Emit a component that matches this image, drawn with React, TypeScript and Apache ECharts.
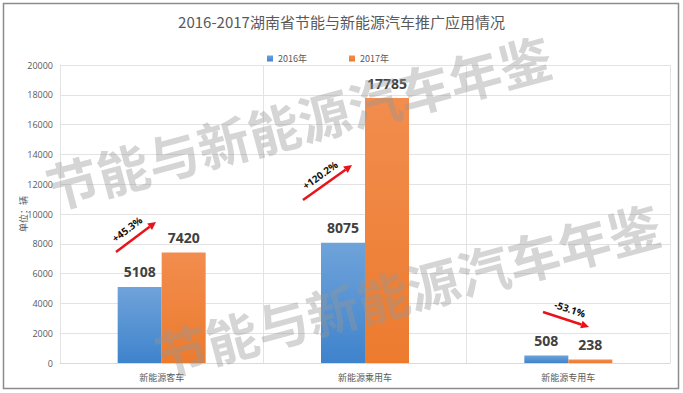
import React, { useEffect, useRef } from "react";
import * as echarts from "echarts";

const categories = ["新能源客车", "新能源乘用车", "新能源专用车"];
const series2016 = [5108, 8075, 508];
const series2017 = [7420, 17785, 238];
const seriesNames = ["2016年", "2017年"];
const changeLabels = ["+45.3%", "+120.2%", "-53.1%"];
const titleText = "2016-2017湖南省节能与新能源汽车推广应用情况";
const watermarkText = "节能与新能源汽车年鉴";

const CJK = "'Noto Sans CJK SC', 'Noto Sans', sans-serif";
const NUM = "'Open Sans', 'Noto Sans', sans-serif";

function arrow(x1: number, y1: number, x2: number, y2: number) {
  const ang = Math.atan2(y2 - y1, x2 - x1);
  const len = 8;
  const w = 4;
  const bx = x2 - len * Math.cos(ang);
  const by = y2 - len * Math.sin(ang);
  const px = -Math.sin(ang) * w;
  const py = Math.cos(ang) * w;
  return [
    {
      type: "line",
      shape: { x1, y1, x2: bx, y2: by },
      style: { stroke: "#e8141a", lineWidth: 2.5 },
      z: 100,
    },
    {
      type: "polygon",
      shape: { points: [[x2, y2], [bx + px, by + py], [bx - px, by - py]] },
      style: { fill: "#e8141a" },
      z: 100,
    },
  ];
}

function rotLabel(text: string, x: number, y: number, deg: number) {
  return {
    type: "text",
    x,
    y,
    rotation: (deg * Math.PI) / 180,
    style: {
      text,
      fill: "#111",
      font: `bold 10px ${NUM}`,
      align: "center",
      verticalAlign: "middle",
    },
    z: 100,
  };
}

export default function App() {
  const ref = useRef<HTMLDivElement>(null);
  useEffect(() => {
    document.body.style.margin = "0";
    const chart = echarts.init(ref.current!, null, { renderer: "svg" });
    const blueGrad = new echarts.graphic.LinearGradient(0, 0, 0, 1, [
      { offset: 0, color: "#6fa3da" },
      { offset: 1, color: "#3f83cc" },
    ]);
    const orangeGrad = new echarts.graphic.LinearGradient(0, 0, 0, 1, [
      { offset: 0, color: "#f28d4e" },
      { offset: 1, color: "#ec7b2e" },
    ]);
    const labelStyle = {
      show: true,
      position: "top",
      distance: 8,
      color: "#404040",
      fontSize: 14,
      fontWeight: "bold",
      fontFamily: NUM,
    };
    const wm = (x: number, y: number) => ({
      type: "text",
      x,
      y,
      rotation: (15 * Math.PI) / 180,
      style: {
        text: watermarkText,
        fill: "rgba(150,150,150,0.4)",
        font: `bold 52px ${CJK}`,
        verticalAlign: "bottom",
      },
      z: 50,
    });
    chart.setOption({
      animation: false,
      backgroundColor: "#fff",
      title: {
        text: titleText,
        left: "center",
        top: 9,
        textStyle: { fontSize: 15, fontWeight: "normal", color: "#595959", fontFamily: CJK },
      },
      legend: {
        data: seriesNames,
        left: 262,
        top: 49,
        itemWidth: 6,
        itemHeight: 6,
        itemGap: 42,
        icon: "rect",
        textStyle: { fontSize: 9, color: "#595959", fontFamily: CJK },
      },
      grid: { left: 60, right: 13, top: 65, bottom: 30 },
      xAxis: {
        type: "category",
        data: categories,
        axisLine: { lineStyle: { color: "#d9d9d9" } },
        axisTick: { show: false },
        axisLabel: { color: "#595959", fontSize: 9, fontFamily: CJK, margin: 10 },
        splitLine: { show: true, lineStyle: { color: "#e3e3e3" } },
      },
      yAxis: {
        type: "value",
        min: 0,
        max: 20000,
        interval: 2000,
        name: "单位：辆",
        nameLocation: "middle",
        nameGap: 32,
        nameMoveOverlap: false,
        nameTextStyle: { color: "#595959", fontSize: 9, fontFamily: CJK },
        axisLine: { show: true, lineStyle: { color: "#e3e3e3" } },
        axisLabel: {
          color: "#595959",
          fontSize: 9,
          fontFamily: NUM,
          margin: 7,
          formatter: (v: number) => String(v),
        },
        splitLine: { lineStyle: { color: "#e3e3e3" } },
      },
      series: [
        {
          name: seriesNames[0],
          type: "bar",
          data: series2016,
          barWidth: 44,
          barGap: "0%",
          itemStyle: { color: blueGrad },
          label: labelStyle,
        },
        {
          name: seriesNames[1],
          type: "bar",
          data: series2017,
          barWidth: 44,
          barGap: "0%",
          itemStyle: { color: orangeGrad },
          label: labelStyle,
        },
      ],
      color: ["#4a8fd3", "#ed7d31"],
      graphic: [
        wm(54, 213),
        wm(163, 381),
        ...arrow(116, 252, 156, 222),
        rotLabel(changeLabels[0], 127, 229, 37),
        ...arrow(303, 200, 352, 165),
        rotLabel(changeLabels[1], 320, 175, 36),
        ...arrow(543, 312, 589, 327),
        rotLabel(changeLabels[2], 570, 309, -18),
        {
          type: "rect",
          shape: { x: 3.5, y: 3.5, width: 675, height: 385 },
          style: { fill: "none", stroke: "#8c8c8c", lineWidth: 1.5 },
          z: 100,
        },
      ],
    });
    return () => chart.dispose();
  }, []);
  return <div ref={ref} style={{ width: 683, height: 393 }} />;
}
